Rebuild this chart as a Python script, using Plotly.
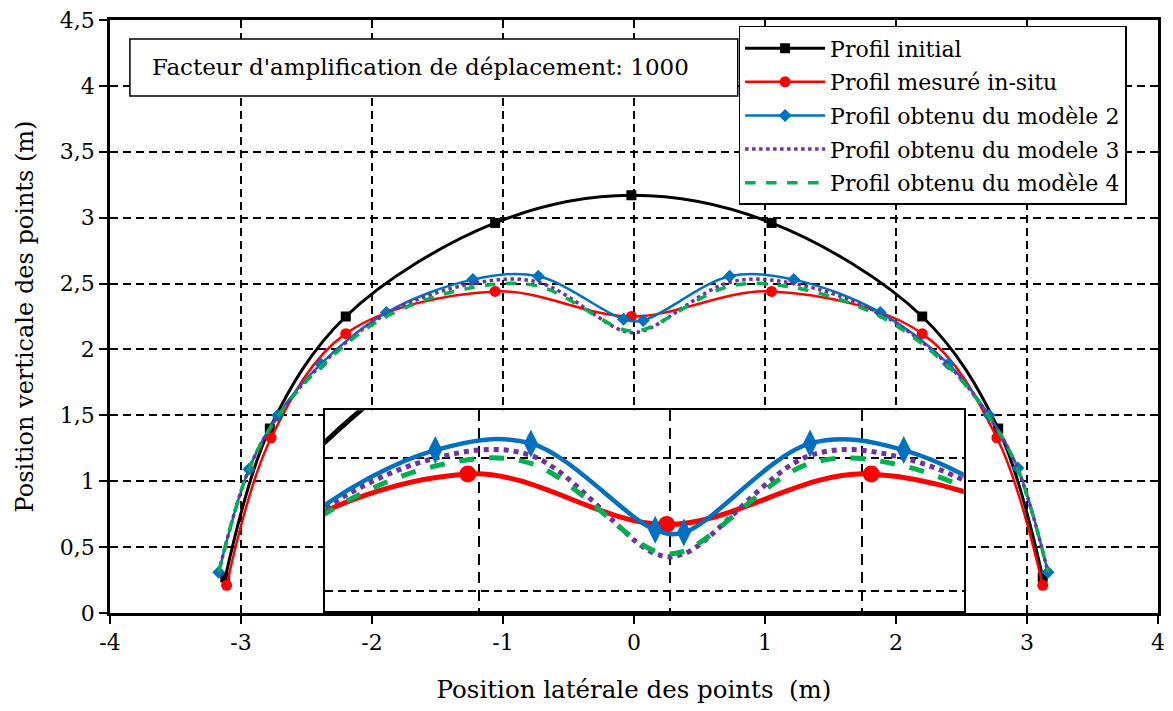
import plotly.graph_objects as go

# Profil initial
x_init = [-3.12, -2.78, -2.20, -1.06, -0.02, 1.05, 2.20, 2.78, 3.12]
y_init = [0.27, 1.40, 2.25, 2.96, 3.17, 2.96, 2.25, 1.40, 0.27]

# Profil mesuré in-situ
x_mes = [-3.11, -2.77, -2.20, -1.06, -0.02, 1.05, 2.20, 2.77, 3.12]
y_mes = [0.21, 1.33, 2.12, 2.44, 2.25, 2.44, 2.12, 1.33, 0.21]

# Profils des modèles (mêmes noeuds)
x_mod = [-3.17, -2.94, -2.72, -2.39, -1.89, -1.23, -0.73, -0.08, 0.07, 0.73, 1.22, 1.88, 2.40, 2.71, 2.93, 3.16]
y_mod2 = [0.31, 1.09, 1.50, 1.89, 2.28, 2.53, 2.555, 2.23, 2.22, 2.555, 2.53, 2.28, 1.89, 1.50, 1.10, 0.31]
y_mod3 = [0.31, 1.09, 1.49, 1.88, 2.27, 2.50, 2.51, 2.14, 2.14, 2.51, 2.50, 2.27, 1.88, 1.49, 1.09, 0.31]
y_mod4 = [0.31, 1.09, 1.49, 1.87, 2.25, 2.47, 2.48, 2.15, 2.15, 2.48, 2.47, 2.25, 1.87, 1.49, 1.09, 0.31]

x_ticks = [-4, -3, -2, -1, 0, 1, 2, 3, 4]
x_ticktext = ["-4", "-3", "-2", "-1", "0", "1", "2", "3", "4"]
y_ticks = [0, 0.5, 1, 1.5, 2, 2.5, 3, 3.5, 4, 4.5]
y_ticktext = ["0", "0,5", "1", "1,5", "2", "2,5", "3", "3,5", "4", "4,5"]

FONT = "DejaVu Serif"
BLACK = "#000000"
RED = "#FF0000"
BLUE = "#0070C0"
PURPLE = "#7030A0"
GREEN = "#00B050"

fig = go.Figure()

# --- graphique principal
fig.add_trace(go.Scatter(x=x_init, y=y_init, name="Profil initial", legendgroup="a",
                         mode="lines+markers", line=dict(color=BLACK, width=3, shape="spline", smoothing=1),
                         marker=dict(symbol="square", size=10, color=BLACK)))
fig.add_trace(go.Scatter(x=x_mes, y=y_mes, name="Profil mesuré in-situ", legendgroup="b",
                         mode="lines+markers", line=dict(color=RED, width=2.5, shape="spline", smoothing=1),
                         marker=dict(symbol="circle", size=11, color=RED)))
fig.add_trace(go.Scatter(x=x_mod, y=y_mod2, name="Profil obtenu du modèle 2", legendgroup="c",
                         mode="lines+markers", line=dict(color=BLUE, width=2.5, shape="spline", smoothing=1),
                         marker=dict(symbol="diamond", size=10, color=BLUE)))
fig.add_trace(go.Scatter(x=x_mod, y=y_mod3, name="Profil obtenu du modele 3", legendgroup="d",
                         mode="lines", line=dict(color=PURPLE, width=3.5, dash="dot", shape="spline", smoothing=1)))
fig.add_trace(go.Scatter(x=x_mod, y=y_mod4, name="Profil obtenu du modèle 4", legendgroup="e",
                         mode="lines", line=dict(color=GREEN, width=3.5, dash="dash", shape="spline", smoothing=1)))

# --- encart (zoom)
fig.add_trace(go.Scatter(x=x_init, y=y_init, xaxis="x2", yaxis="y2", showlegend=False, hoverinfo="skip",
                         mode="lines", line=dict(color=BLACK, width=5, shape="spline", smoothing=1)))
fig.add_trace(go.Scatter(x=x_mes, y=y_mes, xaxis="x2", yaxis="y2", showlegend=False,
                         mode="lines+markers", line=dict(color=RED, width=5, shape="spline", smoothing=1),
                         marker=dict(symbol="circle", size=17, color=RED)))
fig.add_trace(go.Scatter(x=x_mod, y=y_mod3, xaxis="x2", yaxis="y2", showlegend=False,
                         mode="lines", line=dict(color=PURPLE, width=5, dash="dot", shape="spline", smoothing=1)))
fig.add_trace(go.Scatter(x=x_mod, y=y_mod4, xaxis="x2", yaxis="y2", showlegend=False,
                         mode="lines", line=dict(color=GREEN, width=5, dash="dash", shape="spline", smoothing=1)))
fig.add_trace(go.Scatter(x=x_mod, y=y_mod2, xaxis="x2", yaxis="y2", showlegend=False,
                         mode="lines+markers", line=dict(color=BLUE, width=4.5, shape="spline", smoothing=1),
                         marker=dict(symbol="diamond-tall", size=20, color=BLUE)))

fig.update_layout(
    width=1173, height=711,
    margin=dict(l=110, r=15, t=20, b=98, autoexpand=False),
    paper_bgcolor="white", plot_bgcolor="white",
    font=dict(family=FONT, size=22, color=BLACK),
    showlegend=True,
    legend=dict(x=0.5998, y=0.99, xanchor="left", yanchor="top",
                bgcolor="white", bordercolor=BLACK, borderwidth=1.5,
                font=dict(family=FONT, size=22, color=BLACK),
                tracegroupgap=2, itemwidth=80),
    xaxis=dict(domain=[0, 1], range=[-4, 4], tickvals=x_ticks, ticktext=x_ticktext, automargin=False,
               showgrid=True, gridcolor=BLACK, gridwidth=1.5, griddash="8px,5px", zeroline=False,
               showline=True, mirror=True, linecolor=BLACK, linewidth=2.5,
               ticks="outside", ticklen=8, tickwidth=2, tickcolor=BLACK,
               tickfont=dict(family=FONT, size=22),
               title=dict(text="Position latérale des points  (m)", font=dict(family=FONT, size=24.5), standoff=27)),
    yaxis=dict(domain=[0, 1], range=[0, 4.5], tickvals=y_ticks, ticktext=y_ticktext, automargin=False,
               showgrid=True, gridcolor=BLACK, gridwidth=1.5, griddash="8px,5px", zeroline=False,
               showline=True, mirror=True, linecolor=BLACK, linewidth=2.5,
               ticks="outside", ticklen=8, tickwidth=2, tickcolor=BLACK,
               tickfont=dict(family=FONT, size=22),
               title=dict(text="Position verticale des points (m)", font=dict(family=FONT, size=24), standoff=20)),
    xaxis2=dict(domain=[0.2053, 0.8147], anchor="y2", range=[-1.806, 1.534], tickvals=[-1, 0, 1],
                showticklabels=False, ticks="", automargin=False,
                showgrid=True, gridcolor=BLACK, gridwidth=2, griddash="11px,7px", zeroline=False,
                showline=True, mirror=True, linecolor=BLACK, linewidth=1.5),
    yaxis2=dict(domain=[0.0034, 0.342], anchor="x2", range=[1.925, 2.68], tickvals=[2.0, 2.5],
                showticklabels=False, ticks="", automargin=False,
                showgrid=True, gridcolor=BLACK, gridwidth=2, griddash="8px,5px", zeroline=False,
                showline=True, mirror=True, linecolor=BLACK, linewidth=1.5),
)

# cadre du facteur d'amplification
fig.add_shape(type="rect", xref="paper", yref="paper", x0=0.019, x1=0.599, y0=0.872, y1=0.968,
              line=dict(color=BLACK, width=1.5), fillcolor="white", layer="above")
fig.add_annotation(x=0.038, y=0.92, xref="paper", yref="paper", xanchor="left", yanchor="middle",
                   text="Facteur d'amplification de déplacement: 1000", showarrow=False,
                   font=dict(family=FONT, size=23, color=BLACK))

# pas de marge autour de la figure dans la page, pas de barre d'outils
fig.write_html("out.html", config={"displayModeBar": False},
               post_script="document.body.style.margin='0';")
